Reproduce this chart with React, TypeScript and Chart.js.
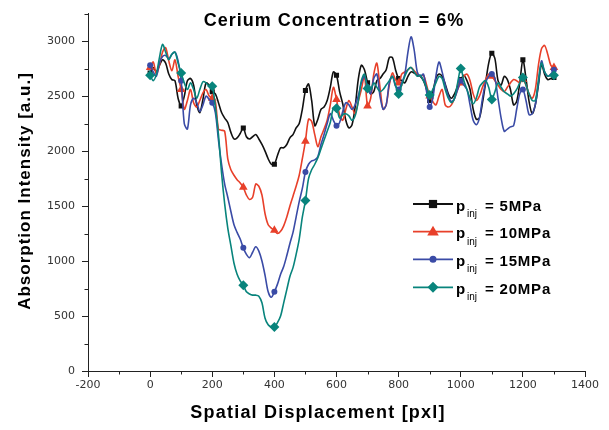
import React, { useEffect, useRef } from "react";
import { Chart, registerables } from "chart.js";

Chart.register(...registerables);

const xs = [
  0, 10, 20, 30, 40, 50, 60, 70, 80, 90,
  100, 110, 120, 130, 140, 150, 160, 170, 180, 190,
  200, 210, 220, 230, 240, 250, 260, 270, 280, 290,
  300, 310, 320, 330, 340, 350, 360, 370, 380, 390,
  400, 410, 420, 430, 440, 450, 460, 470, 480, 490,
  500, 510, 520, 530, 540, 550, 560, 570, 580, 590,
  600, 610, 620, 630, 640, 650, 660, 670, 680, 690,
  700, 710, 720, 730, 740, 750, 760, 770, 780, 790,
  800, 810, 820, 830, 840, 850, 860, 870, 880, 890,
  900, 910, 920, 930, 940, 950, 960, 970, 980, 990,
  1000, 1010, 1020, 1030, 1040, 1050, 1060, 1070, 1080, 1090,
  1100, 1110, 1120, 1130, 1140, 1150, 1160, 1170, 1180, 1190,
  1200, 1210, 1220, 1230, 1240, 1250, 1260, 1270, 1280, 1290,
  1300,
];

const p5 = [
  2710, 2760, 2720, 2780, 2830, 2800, 2700, 2650, 2640, 2480,
  2410, 2500, 2640, 2660, 2600, 2420, 2350, 2470, 2620, 2600,
  2540, 2520, 2440, 2350, 2300, 2260, 2170, 2110, 2120, 2160,
  2210, 2130, 2110, 2130, 2150, 2110, 2060, 2000, 1930, 1880,
  1880, 1960, 2030, 2030, 2060, 2120, 2150, 2210, 2250, 2380,
  2550, 2610, 2460, 2230, 2290, 2380, 2400, 2460, 2580, 2720,
  2690, 2540, 2430, 2280, 2210, 2240, 2400, 2650, 2780, 2740,
  2620, 2520, 2540, 2640, 2660, 2700, 2740, 2850, 2850, 2740,
  2660, 2640, 2620, 2680, 2720, 2710, 2690, 2680, 2640, 2560,
  2460, 2540, 2660, 2700, 2680, 2610, 2520, 2480, 2520, 2590,
  2650, 2690, 2640, 2560, 2380, 2290, 2300, 2440, 2620, 2800,
  2890, 2840, 2640, 2600, 2680, 2650, 2560, 2420, 2450, 2620,
  2830, 2660, 2450, 2340, 2420, 2600, 2790, 2700, 2650, 2660,
  2670,
];

const p10 = [
  2760, 2810, 2700, 2780, 2900, 2940, 2820, 2730, 2830, 2680,
  2560, 2380, 2460, 2560, 2440, 2400, 2460, 2530, 2560, 2500,
  2480, 2450, 2200, 2190, 2180, 1930, 1830, 1780, 1740, 1710,
  1670, 1600, 1560, 1580, 1700, 1680, 1600, 1430, 1330, 1300,
  1280, 1250, 1270, 1320, 1400, 1500, 1590, 1680, 1780, 1930,
  2090, 2290, 2270, 2150, 2040, 2130, 2200, 2280, 2420, 2580,
  2470, 2330, 2280, 2380, 2460, 2400, 2340, 2450, 2560, 2680,
  2410, 2480, 2700, 2800, 2580, 2380, 2420, 2600, 2710, 2650,
  2620, 2700, 2720, 2740, 2760, 2730, 2700, 2680, 2690, 2600,
  2500, 2450, 2420, 2500, 2560, 2420, 2400, 2420, 2480, 2560,
  2620, 2680, 2700, 2640, 2520, 2460, 2500, 2580, 2650, 2700,
  2680, 2640, 2600, 2560, 2540, 2580, 2620, 2650, 2640, 2620,
  2650, 2600, 2520, 2480, 2560, 2780, 2930, 2960, 2880, 2780,
  2760,
];

const p15 = [
  2780, 2720, 2680, 2800, 2860, 2870, 2840, 2880, 2900, 2820,
  2640, 2250, 2200, 2420, 2480, 2440, 2360, 2420, 2500, 2470,
  2440, 2350, 2100, 1880, 1700, 1580, 1450, 1330, 1260, 1200,
  1120, 1060, 1030, 1080, 1130, 1090, 1000, 870, 720, 670,
  720, 790, 880, 950, 1050, 1160, 1260, 1400, 1540, 1660,
  1810, 1880, 1910, 1920, 1950, 2060, 2150, 2250, 2340, 2280,
  2230, 2260, 2360, 2440, 2420, 2380, 2420, 2500, 2620, 2680,
  2580, 2520, 2660, 2700, 2500, 2380, 2420, 2620, 2680, 2590,
  2560, 2620, 2700, 2900, 3040, 2920, 2720, 2680, 2700, 2540,
  2400, 2480, 2680, 2810, 2720, 2600, 2500, 2450, 2480, 2560,
  2640, 2600, 2560, 2420, 2280, 2240, 2300, 2480, 2620, 2680,
  2700, 2660, 2480, 2300, 2180, 2200, 2220, 2230, 2380, 2520,
  2560, 2460, 2330, 2340, 2420, 2620, 2820, 2720, 2680, 2700,
  2740,
];

const p20 = [
  2690, 2640, 2700, 2850, 2970, 2900, 2830, 2880, 2900, 2800,
  2710, 2620, 2560, 2620, 2560, 2480, 2560, 2630, 2620, 2590,
  2590, 2400, 2150, 1800, 1520, 1300, 1140, 980, 880, 820,
  780, 720, 700, 690, 690, 680, 620, 480, 420, 400,
  400, 440, 500, 620, 740, 860, 940, 1060, 1200, 1400,
  1550, 1750, 1830, 1880, 1940, 2020, 2100, 2180, 2260, 2390,
  2390, 2300, 2330, 2340, 2320, 2280, 2320, 2450, 2640, 2700,
  2570, 2560, 2620, 2580, 2540, 2560, 2600, 2640, 2680, 2600,
  2520, 2600, 2680, 2740, 2760, 2720, 2680, 2690, 2640, 2580,
  2510, 2560, 2620, 2680, 2660, 2560, 2480, 2440, 2480, 2620,
  2750, 2640, 2560, 2480, 2430, 2480, 2580, 2620, 2640, 2580,
  2470, 2540, 2620, 2580, 2540, 2520, 2500, 2520, 2560, 2620,
  2670, 2600, 2520, 2460, 2460, 2640, 2800, 2720, 2680, 2690,
  2690,
];

const seriesLabels = ["5MPa", "10MPa", "15MPa", "20MPa"];
const seriesColors = ["#111111", "#e8402a", "#3a4ba6", "#08847c"];
const seriesMarkers = ["rect", "triangle", "circle", "rectRot"];
const markerSizes = [3.6, 5, 3, 5];
const seriesValues = [p5, p10, p15, p20];

const titleText = "Cerium Concentration = 6%";
const xTitle = "Spatial Displacement [pxl]";
const yTitle = "Absorption Intensity [a.u.]";

const BOLD = '"Liberation Sans", Arial, sans-serif';

function drawMarker(ctx: CanvasRenderingContext2D, style: string, x: number, y: number, r: number, color: string) {
  ctx.save();
  ctx.fillStyle = color;
  ctx.beginPath();
  if (style === "rect") {
    ctx.rect(x - r, y - r, 2 * r, 2 * r);
  } else if (style === "triangle") {
    ctx.moveTo(x, y - r * 1.1);
    ctx.lineTo(x + r * 1.05, y + r * 0.7);
    ctx.lineTo(x - r * 1.05, y + r * 0.7);
    ctx.closePath();
  } else if (style === "circle") {
    ctx.arc(x, y, r, 0, Math.PI * 2);
  } else {
    ctx.moveTo(x, y - r);
    ctx.lineTo(x + r, y);
    ctx.lineTo(x, y + r);
    ctx.lineTo(x - r, y);
    ctx.closePath();
  }
  ctx.fill();
  ctx.restore();
}

const overlay = {
  id: "overlay",
  afterDraw(chart: any) {
    const ctx = chart.ctx;
    const xs_ = chart.scales.x;
    const ys_ = chart.scales.y;
    const area = chart.chartArea;
    ctx.save();
    // minor ticks
    ctx.strokeStyle = "#222";
    ctx.lineWidth = 1;
    xs_.ticks.forEach((t: any) => {
      if (t.value % 200 !== 0) {
        const px = Math.round(xs_.getPixelForValue(t.value)) + 0.5;
        ctx.beginPath();
        ctx.moveTo(px, area.bottom);
        ctx.lineTo(px, area.bottom + 3.5);
        ctx.stroke();
      }
    });
    ys_.ticks.forEach((t: any) => {
      if (t.value % 500 !== 0) {
        const py = Math.round(ys_.getPixelForValue(t.value)) + 0.5;
        ctx.beginPath();
        ctx.moveTo(area.left, py);
        ctx.lineTo(area.left - 3.5, py);
        ctx.stroke();
      }
    });

    // title
    ctx.fillStyle = "#000";
    ctx.textAlign = "center";
    ctx.textBaseline = "middle";
    ctx.letterSpacing = "1px";
    ctx.font = `bold 18px ${BOLD}`;
    ctx.fillText(titleText, 334, 21);

    // x title
    ctx.letterSpacing = "1.2px";
    ctx.font = `bold 18px ${BOLD}`;
    ctx.fillText(xTitle, 318, 413);

    // y title
    ctx.save();
    ctx.translate(25, 191);
    ctx.rotate(-Math.PI / 2);
    ctx.letterSpacing = "1px";
    ctx.font = `bold 17px ${BOLD}`;
    ctx.fillText(yTitle, 0, 0);
    ctx.restore();

    // legend
    const rowY = [204, 231.7, 259.3, 287.3];
    for (let i = 0; i < 4; i++) {
      const y = rowY[i];
      ctx.strokeStyle = seriesColors[i];
      ctx.lineWidth = 1.8;
      ctx.beginPath();
      ctx.moveTo(413, y);
      ctx.lineTo(453, y);
      ctx.stroke();
      drawMarker(ctx, seriesMarkers[i], 433, y, markerSizes[i] + 0.5, seriesColors[i]);
      ctx.fillStyle = "#000";
      ctx.textAlign = "left";
      ctx.textBaseline = "alphabetic";
      ctx.letterSpacing = "0px";
      ctx.font = `bold 15px ${BOLD}`;
      ctx.fillText("p", 456, y + 6.5);
      ctx.font = `10px ${BOLD}`;
      ctx.fillText("inj", 467, y + 13);
      ctx.letterSpacing = "0.8px";
      ctx.font = `bold 15px ${BOLD}`;
      ctx.fillText("= " + seriesLabels[i], 485, y + 6.5);
    }
    ctx.letterSpacing = "0px";
    ctx.restore();
  },
};

export default function App() {
  const ref = useRef<HTMLCanvasElement | null>(null);
  useEffect(() => {
    if (!ref.current) return;
    const datasets = seriesValues.map((vals, i) => ({
      label: seriesLabels[i],
      data: xs.map((x, j) => ({ x, y: vals[j] })),
      borderColor: seriesColors[i],
      backgroundColor: seriesColors[i],
      borderWidth: 1.6,
      tension: 0.3,
      pointStyle: seriesMarkers[i],
      pointRadius: (c: any) => (xs[c.dataIndex] % 100 === 0 ? markerSizes[i] : 0),
      pointBorderWidth: 0,
      pointHoverRadius: 0,
      order: 3 - i,
    }));
    const chart = new Chart(ref.current, {
      type: "line",
      data: { datasets },
      options: {
        responsive: false,
        animation: false,
        events: [],
        layout: { padding: { left: 0, top: 10, right: 24, bottom: 0 } },
        plugins: { legend: { display: false }, tooltip: { enabled: false }, title: { display: false } },
        scales: {
          x: {
            type: "linear",
            min: -200,
            max: 1400,
            afterFit: (s: any) => { s.height = 59; },
            border: { display: true, color: "#222", width: 1 },
            grid: {
              drawOnChartArea: false,
              drawTicks: true,
              tickLength: 6,
              tickColor: (c: any) => (c.tick && c.tick.value % 200 === 0 ? "#222" : "rgba(0,0,0,0)"),
            },
            ticks: {
              stepSize: 100,
              autoSkip: false,
              maxRotation: 0,
              padding: 2,
              color: "#333",
              font: { family: '"DejaVu Sans", sans-serif', size: 11 },
              callback: (v: any) => (Number(v) % 200 === 0 ? String(v) : ""),
            },
          },
          y: {
            type: "linear",
            min: 0,
            max: 3250,
            afterFit: (s: any) => { s.width = 88; },
            border: { display: true, color: "#222", width: 1 },
            grid: {
              drawOnChartArea: false,
              drawTicks: true,
              tickLength: 6,
              tickColor: (c: any) => (c.tick && c.tick.value % 500 === 0 ? "#222" : "rgba(0,0,0,0)"),
            },
            ticks: {
              stepSize: 250,
              autoSkip: false,
              padding: 7,
              color: "#333",
              font: { family: '"DejaVu Sans", sans-serif', size: 11 },
              callback: (v: any) => (Number(v) % 500 === 0 ? String(v) : ""),
            },
          },
        },
      },
      plugins: [overlay],
    });
    return () => chart.destroy();
  }, []);
  return (
    <div style={{ position: "fixed", left: 0, top: 0, width: 609, height: 430, background: "#fff" }}>
      <canvas ref={ref} width={609} height={430} />
    </div>
  );
}
